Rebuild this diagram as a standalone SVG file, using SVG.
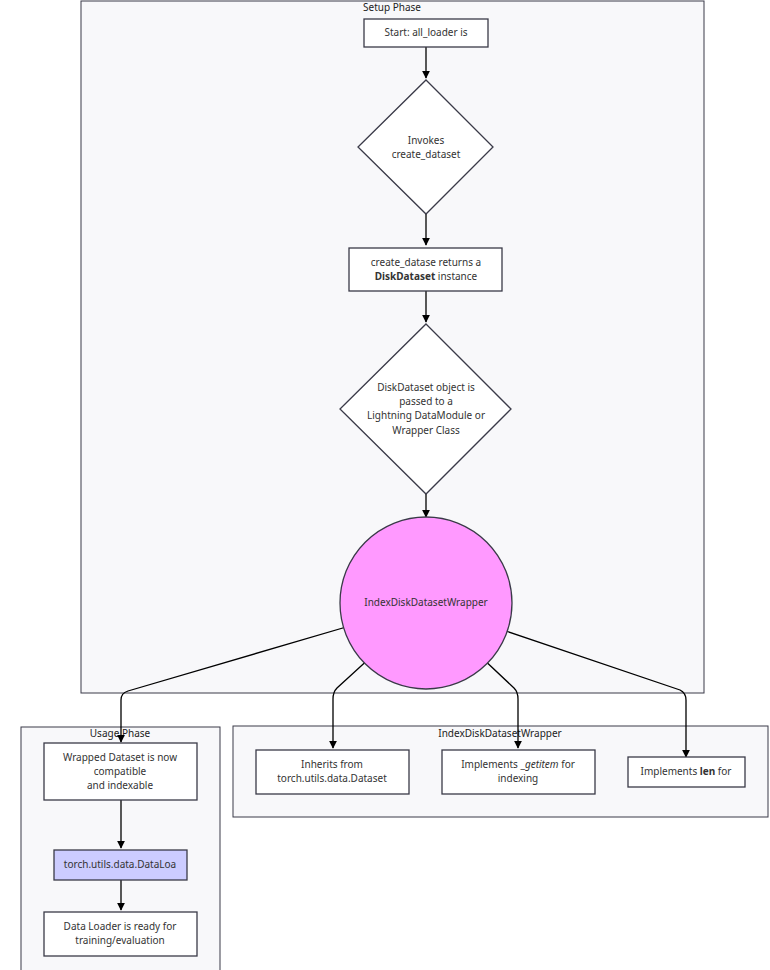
<svg xmlns="http://www.w3.org/2000/svg" width="770" height="970" viewBox="0 0 770 970">
<defs>
<marker id="ah" viewBox="0 0 10 10" refX="9" refY="5" markerWidth="8" markerHeight="8" markerUnits="userSpaceOnUse" orient="auto">
<path d="M0,0 L10,5 L0,10 z" fill="#000"/>
</marker>
</defs>
<style>
.cl{fill:#f8f8fa;stroke:#3a3a48;stroke-width:1}
.nd{fill:#fff;stroke:#3a3a48;stroke-width:1.3}
.t{font-family:"Noto Sans","DejaVu Sans",sans-serif;font-size:10px;fill:#333;text-anchor:middle;dominant-baseline:middle}
.ct{font-family:"Noto Sans","DejaVu Sans",sans-serif;font-size:10px;fill:#222;text-anchor:middle;dominant-baseline:middle}
.e{fill:none;stroke:#000;stroke-width:1.3;marker-end:url(#ah)}
</style>
<rect width="770" height="970" fill="#fff"/>
<g id="cluster-setup">
<rect class="cl" x="81" y="1" width="623" height="692"/>
<text class="ct" x="392" y="8">Setup Phase</text>
</g>
<g id="cluster-usage">
<rect class="cl" x="21" y="727" width="199" height="250"/>
<text class="ct" x="120" y="734">Usage Phase</text>
</g>
<g id="cluster-wrapper">
<rect class="cl" x="233" y="726" width="535" height="91"/>
<text class="ct" x="500" y="734">IndexDiskDatasetWrapper</text>
</g>
<g id="connectors">
<path class="e" d="M426,47 V78"/>
<path class="e" d="M426,214 V245"/>
<path class="e" d="M426,291 V322"/>
<path class="e" d="M426,494 V517"/>
<path class="e" d="M353,625 L128,691 Q121,693 121,700 V742"/>
<path class="e" d="M372,656 L337,688 Q333,692 333,699 V748"/>
<path class="e" d="M480,656 L514,688 Q518,692 518,699 V748"/>
<path class="e" d="M497,628 L680,690 Q686,693 686,700 V757"/>
<path class="e" d="M121,800 V848"/>
<path class="e" d="M121,880 V910"/>
</g>
<g id="start">
<rect class="nd" x="364" y="19" width="124" height="28"/>
<text class="t" x="426" y="33">Start: all_loader is</text>
</g>
<g id="invokes">
<polygon class="nd" points="426,80 493,147 426,214 358,147"/>
<text class="t" x="426" y="141">Invokes</text>
<text class="t" x="426" y="155">create_dataset</text>
</g>
<g id="returns">
<rect class="nd" x="349" y="248" width="153" height="43"/>
<text class="t" x="426" y="263">create_datase returns a</text>
<text class="t" x="426" y="277"><tspan font-weight="bold">DiskDataset</tspan> instance</text>
</g>
<g id="passed">
<polygon class="nd" points="426,324 511,409 426,494 340,409"/>
<text class="t" x="426" y="388">DiskDataset object is</text>
<text class="t" x="426" y="402">passed to a</text>
<text class="t" x="426" y="416">Lightning DataModule or</text>
<text class="t" x="426" y="431">Wrapper Class</text>
</g>
<g id="wrapper">
<circle cx="426" cy="603" r="86" fill="#ff99ff" stroke="#3a3a48" stroke-width="1.3"/>
<text class="t" x="426" y="603">IndexDiskDatasetWrapper</text>
</g>
<g id="wrapped">
<rect class="nd" x="44" y="743" width="153" height="57"/>
<text class="t" x="120" y="758">Wrapped Dataset is now</text>
<text class="t" x="120" y="772">compatible</text>
<text class="t" x="120" y="786">and indexable</text>
</g>
<g id="dataloader">
<rect class="nd" x="54" y="850" width="133" height="30" fill="#ccccff" style="fill:#ccccff"/>
<text class="t" x="120" y="865">torch.utils.data.DataLoa</text>
</g>
<g id="ready">
<rect class="nd" x="44" y="912" width="153" height="44"/>
<text class="t" x="120" y="927">Data Loader is ready for</text>
<text class="t" x="120" y="941">training/evaluation</text>
</g>
<g id="inherits">
<rect class="nd" x="256" y="750" width="153" height="44"/>
<text class="t" x="332" y="765">Inherits from</text>
<text class="t" x="332" y="779">torch.utils.data.Dataset</text>
</g>
<g id="getitem">
<rect class="nd" x="442" y="750" width="153" height="44"/>
<text class="t" x="518" y="765">Implements _<tspan font-style="italic">getitem</tspan> for</text>
<text class="t" x="518" y="779">indexing</text>
</g>
<g id="len">
<rect class="nd" x="628" y="757" width="117" height="30"/>
<text class="t" x="686" y="772">Implements <tspan font-weight="bold">len</tspan> for</text>
</g>
</svg>
